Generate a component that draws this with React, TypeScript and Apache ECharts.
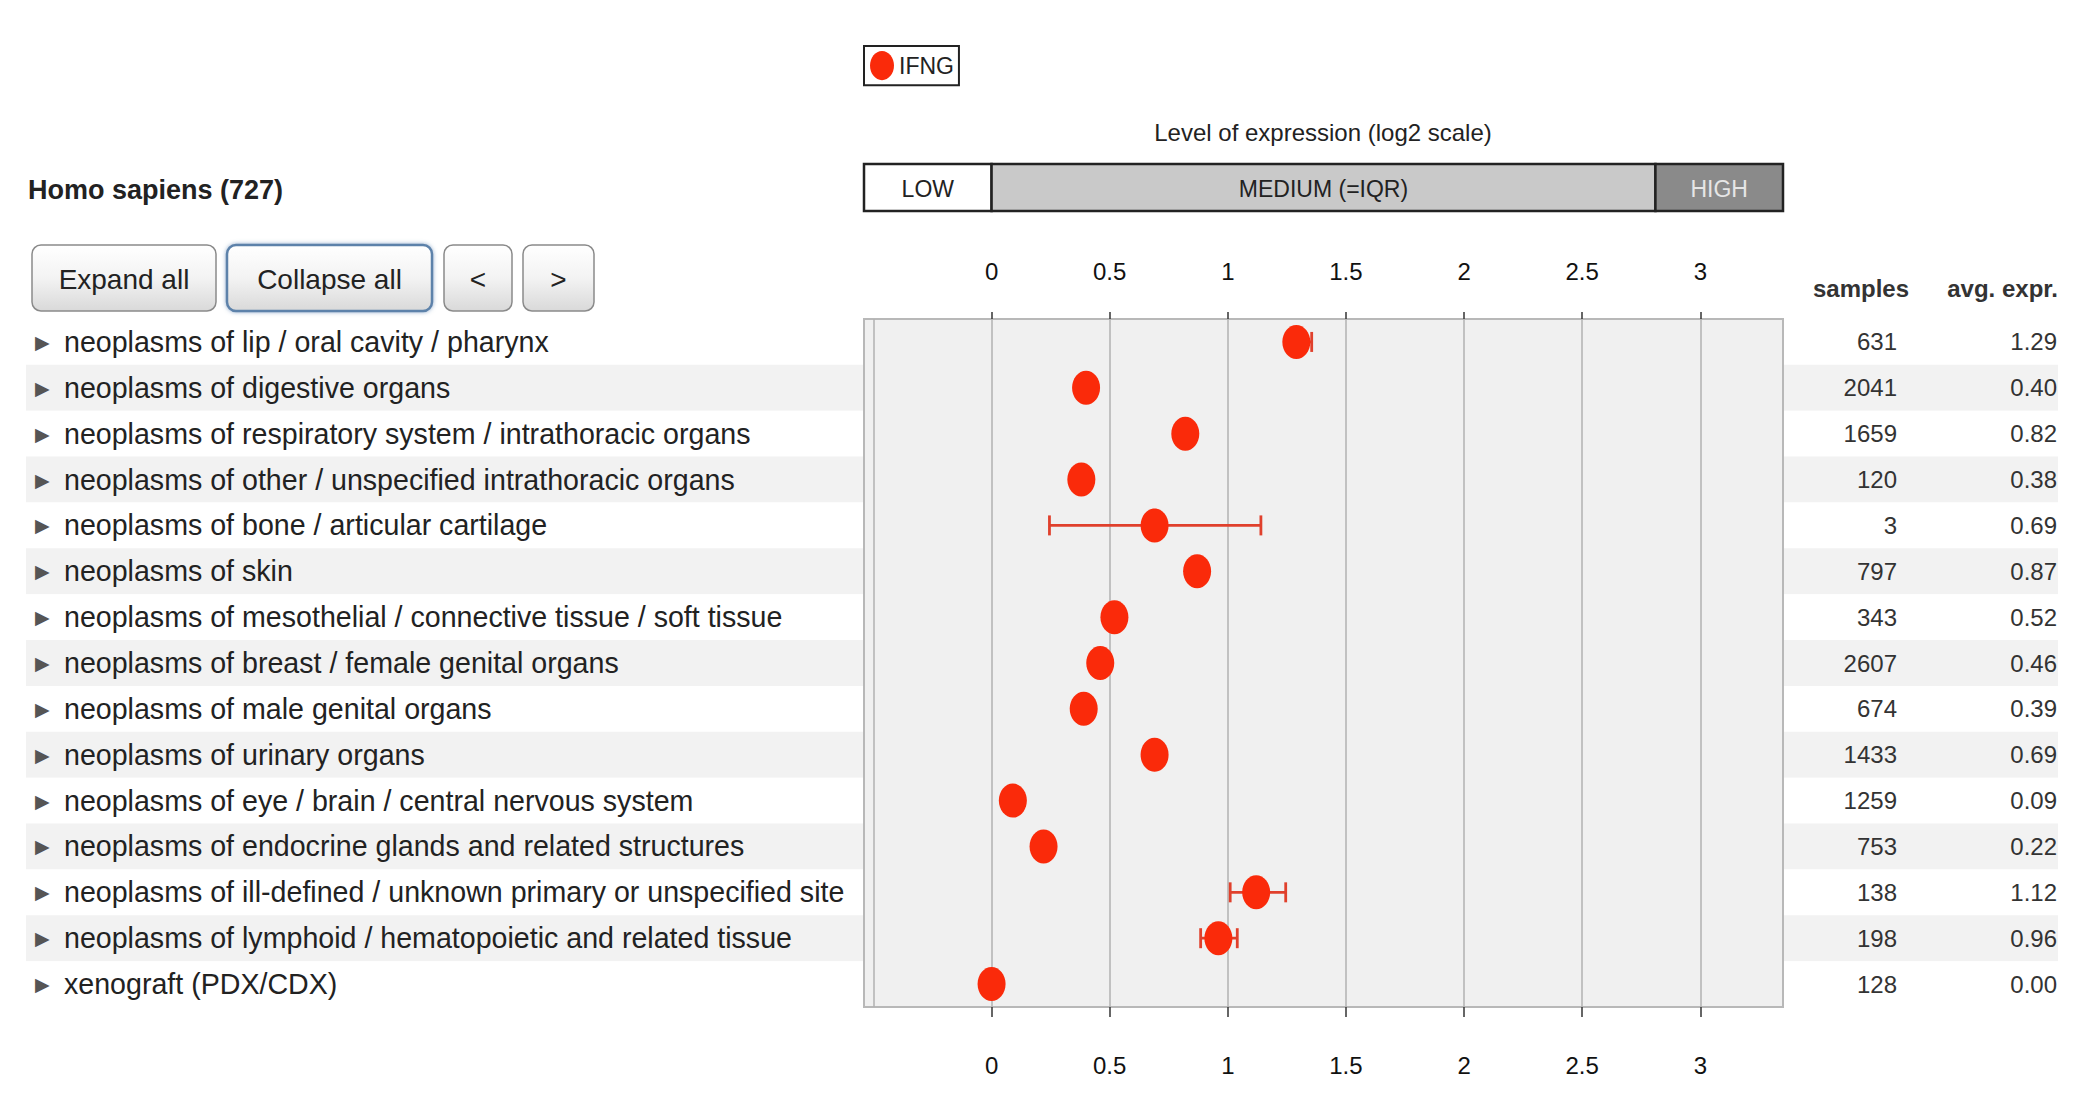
import React, { useEffect, useRef } from 'react';
import * as echarts from 'echarts';

// ---------------- data ----------------
const CATEGORIES = [
  'neoplasms of lip / oral cavity / pharynx',
  'neoplasms of digestive organs',
  'neoplasms of respiratory system / intrathoracic organs',
  'neoplasms of other / unspecified intrathoracic organs',
  'neoplasms of bone / articular cartilage',
  'neoplasms of skin',
  'neoplasms of mesothelial / connective tissue / soft tissue',
  'neoplasms of breast / female genital organs',
  'neoplasms of male genital organs',
  'neoplasms of urinary organs',
  'neoplasms of eye / brain / central nervous system',
  'neoplasms of endocrine glands and related structures',
  'neoplasms of ill-defined / unknown primary or unspecified site',
  'neoplasms of lymphoid / hematopoietic and related tissue',
  'xenograft (PDX/CDX)',
];
const SAMPLES = [631, 2041, 1659, 120, 3, 797, 343, 2607, 674, 1433, 1259, 753, 138, 198, 128];
const AVG_EXPR = [1.29, 0.4, 0.82, 0.38, 0.69, 0.87, 0.52, 0.46, 0.39, 0.69, 0.09, 0.22, 1.12, 0.96, 0.0];
const ERR_ROWS = [0, 4, 12, 13];
const ERR_LOW = [1.25, 0.245, 1.01, 0.885];
const ERR_HIGH = [1.355, 1.14, 1.245, 1.04];
const X_TICKS = [0, 0.5, 1, 1.5, 2, 2.5, 3];
const GRID_LINES = [-0.5, 0, 0.5, 1, 1.5, 2, 2.5, 3];
const X_MIN = -0.54;
const X_MAX = 3.35;
const LEVEL_NAMES = ['LOW', 'MEDIUM (=IQR)', 'HIGH'];
const LEVEL_FROM = [X_MIN, 0, 2.81];
const LEVEL_TO = [0, 2.81, X_MAX];
const LEVEL_FILL = ['#ffffff', '#c9c9c9', '#8a8a8a'];
const LEVEL_TEXT = ['#222222', '#222222', '#e6e6e6'];
const SERIES_NAME = 'IFNG';
const TITLE = 'Homo sapiens (727)';
const BUTTONS = ['Expand all', 'Collapse all', '<', '>'];

const FONT = "'Liberation Sans', Arial, sans-serif";
const DOT = '#fa2a0a';
const ERR_COLOR = '#e0402c';
const ELLIPSE = 'path://M14,0C21.73,0 28,7.61 28,17C28,26.39 21.73,34 14,34C6.27,34 0,26.39 0,17C0,7.61 6.27,0 14,0Z';

function button(label: string, x: number, w: number, focused: boolean) {
  const y = 245;
  const h = 66;
  return {
    type: 'group',
    children: [
      {
        type: 'rect',
        shape: { x, y, width: w, height: h, r: 9 },
        style: {
          fill: new echarts.graphic.LinearGradient(0, 0, 0, 1, [
            { offset: 0, color: '#ffffff' },
            { offset: 0.5, color: '#f3f3f3' },
            { offset: 1, color: '#d9d9d9' },
          ]),
          stroke: focused ? '#5d82aa' : '#8a8a8a',
          lineWidth: focused ? 2.5 : 1.5,
          shadowBlur: focused ? 4 : 0,
          shadowColor: 'rgba(80,120,170,0.6)',
        },
      },
      {
        type: 'text',
        x: x + w / 2,
        y: y + h / 2 + 1,
        style: {
          text: label,
          font: `28px ${FONT}`,
          fill: '#222',
          align: 'center',
          verticalAlign: 'middle',
          textAlign: 'center',
          textVerticalAlign: 'middle',
        },
      },
    ],
  };
}

function gtext(text: string, x: number, y: number, font: string, align: string, fill = '#222') {
  return {
    type: 'text',
    x,
    y,
    style: {
      text,
      font,
      fill,
      align,
      verticalAlign: 'middle',
      textAlign: align,
      textVerticalAlign: 'middle',
    },
  };
}

export default function App() {
  const ref = useRef<HTMLDivElement>(null);

  useEffect(() => {
    if (!ref.current) return;
    const chart = echarts.init(ref.current, null, { renderer: 'svg' });

    const tickLabelStyle = { fontSize: 24, color: '#111', fontFamily: FONT };

    const option: any = {
      animation: false,
      backgroundColor: '#ffffff',
      textStyle: { fontFamily: FONT },
      legend: {
        left: 864,
        top: 46,
        data: [SERIES_NAME],
        icon: ELLIPSE,
        itemWidth: 24,
        itemHeight: 31,
        padding: [5, 5, 5, 6],
        borderColor: '#222',
        borderWidth: 2,
        borderRadius: 0,
        selectedMode: false,
        textStyle: { fontSize: 23, color: '#222', fontFamily: FONT },
      },
      grid: [
        { left: 26, right: 34, top: 319, bottom: 105, outerBoundsMode: 'none', containLabel: false },
        { left: 864, right: 309, top: 319, bottom: 105, outerBoundsMode: 'none', containLabel: false },
        { left: 864, right: 309, top: 164, height: 47, outerBoundsMode: 'none', containLabel: false },
      ],
      xAxis: [
        { gridIndex: 0, type: 'value', show: false, min: 0, max: 1 },
        {
          gridIndex: 1,
          type: 'value',
          position: 'top',
          min: X_MIN,
          max: X_MAX,
          z: 3,
          axisLine: { show: false },
          splitLine: { show: false },
          axisTick: { show: true, length: 7, customValues: X_TICKS, lineStyle: { color: '#333', width: 1.5 } },
          axisLabel: { customValues: X_TICKS, margin: 36, ...tickLabelStyle },
        },
        {
          gridIndex: 1,
          type: 'value',
          position: 'bottom',
          min: X_MIN,
          max: X_MAX,
          z: 3,
          axisLine: { show: false },
          splitLine: { show: false },
          axisTick: { show: true, length: 10, customValues: X_TICKS, lineStyle: { color: '#333', width: 1.5 } },
          axisLabel: { customValues: X_TICKS, margin: 46, ...tickLabelStyle },
        },
        { gridIndex: 2, type: 'value', show: false, min: X_MIN, max: X_MAX },
      ],
      yAxis: [
        {
          gridIndex: 0,
          type: 'category',
          inverse: true,
          data: CATEGORIES,
          position: 'left',
          axisLine: { show: false },
          axisTick: { show: false },
          splitLine: { show: false },
          splitArea: { show: true, areaStyle: { color: ['#ffffff', '#f2f2f2'] } },
          axisLabel: {
            inside: true,
            interval: 0,
            margin: 9,
            formatter: (v: string) => `{tri|\u25B6}{txt|${v}}`,
            rich: {
              tri: { fontSize: 19, color: '#555', width: 29, fontFamily: "'DejaVu Sans', sans-serif" },
              txt: { fontSize: 28.6, color: '#222', fontFamily: FONT },
            },
          },
        },
        {
          gridIndex: 0,
          type: 'category',
          inverse: true,
          data: CATEGORIES,
          position: 'right',
          offset: -160,
          axisLine: { show: false },
          axisTick: { show: false },
          axisLabel: {
            inside: true,
            interval: 0,
            margin: 1,
            fontSize: 24,
            color: '#333',
            fontFamily: FONT,
            formatter: (_v: string, i: number) => String(SAMPLES[i]),
          },
        },
        {
          gridIndex: 0,
          type: 'category',
          inverse: true,
          data: CATEGORIES,
          position: 'right',
          axisLine: { show: false },
          axisTick: { show: false },
          axisLabel: {
            inside: true,
            interval: 0,
            margin: 1,
            fontSize: 24,
            color: '#333',
            fontFamily: FONT,
            formatter: (_v: string, i: number) => AVG_EXPR[i].toFixed(2),
          },
        },
        {
          gridIndex: 1,
          type: 'category',
          inverse: true,
          data: CATEGORIES,
          show: false,
        },
        {
          gridIndex: 2,
          type: 'category',
          data: ['level'],
          show: false,
        },
      ],
      series: [
        {
          type: 'custom',
          name: 'levels',
          xAxisIndex: 3,
          yAxisIndex: 4,
          silent: true,
          encode: { x: [0, 1], y: 2 },
          data: LEVEL_NAMES.map((_n, i) => [LEVEL_FROM[i], LEVEL_TO[i], 0, i]),
          renderItem: (_params: any, api: any) => {
            const i = api.value(3);
            const a = api.coord([api.value(0), 0]);
            const b = api.coord([api.value(1), 0]);
            const h = api.size([0, 1])[1];
            return {
              type: 'group',
              children: [
                {
                  type: 'rect',
                  shape: { x: a[0], y: a[1] - h / 2, width: b[0] - a[0], height: h },
                  style: { fill: LEVEL_FILL[i], stroke: '#222', lineWidth: 2.5 },
                },
                {
                  type: 'text',
                  x: (a[0] + b[0]) / 2,
                  y: a[1] + 1,
                  style: {
                    text: LEVEL_NAMES[i],
                    font: `23px ${FONT}`,
                    fill: LEVEL_TEXT[i],
                    align: 'center',
                    verticalAlign: 'middle',
                    textAlign: 'center',
                    textVerticalAlign: 'middle',
                  },
                },
              ],
            };
          },
        },
        {
          type: 'custom',
          name: 'error',
          xAxisIndex: 1,
          yAxisIndex: 3,
          z: 8,
          silent: true,
          encode: { x: [1, 2], y: 0 },
          data: ERR_ROWS.map((r, k) => [r, ERR_LOW[k], ERR_HIGH[k]]),
          renderItem: (_params: any, api: any) => {
            const row = api.value(0);
            const p1 = api.coord([api.value(1), row]);
            const p2 = api.coord([api.value(2), row]);
            const style = { stroke: ERR_COLOR, lineWidth: 2.8 };
            return {
              type: 'group',
              children: [
                { type: 'line', shape: { x1: p1[0], y1: p1[1], x2: p2[0], y2: p2[1] }, style },
                { type: 'line', shape: { x1: p1[0], y1: p1[1] - 10, x2: p1[0], y2: p1[1] + 10 }, style },
                { type: 'line', shape: { x1: p2[0], y1: p2[1] - 10, x2: p2[0], y2: p2[1] + 10 }, style },
              ],
            };
          },
        },
        {
          type: 'scatter',
          name: SERIES_NAME,
          xAxisIndex: 1,
          yAxisIndex: 3,
          z: 10,
          symbol: ELLIPSE,
          symbolSize: [28, 34],
          itemStyle: { color: DOT, opacity: 1 },
          silent: true,
          data: AVG_EXPR.map((v, i) => [v, i]),
          markArea: {
            silent: true,
            z: 1,
            itemStyle: { color: '#f0f0f0', borderColor: '#b8b8b8', borderWidth: 2 },
            label: { show: false },
            data: [[{ xAxis: X_MIN }, { xAxis: X_MAX }]],
          },
          markLine: {
            silent: true,
            z: 2,
            symbol: ['none', 'none'],
            label: { show: false },
            lineStyle: { color: '#b2b2b2', width: 1.5, type: 'solid' },
            data: GRID_LINES.map((v) => ({ xAxis: v })),
          },
        },
      ],
      graphic: [
        gtext(TITLE, 28, 190, `bold 27px ${FONT}`, 'left', '#222'),
        button(BUTTONS[0], 32, 184, false),
        button(BUTTONS[1], 227, 205, true),
        button(BUTTONS[2], 444, 68, false),
        button(BUTTONS[3], 523, 71, false),
        gtext('Level of expression (log2 scale)', 1323, 132, `24px ${FONT}`, 'center', '#222'),
        gtext('samples', 1861, 288, `bold 24px ${FONT}`, 'center', '#333'),
        gtext('avg. expr.', 2058, 288, `bold 24px ${FONT}`, 'right', '#333'),
      ],
    };

    chart.setOption(option);
    return () => chart.dispose();
  }, []);

  return (
    <div
      ref={ref}
      style={{ position: 'fixed', left: 0, top: 0, width: 2092, height: 1112, background: '#fff' }}
    />
  );
}
